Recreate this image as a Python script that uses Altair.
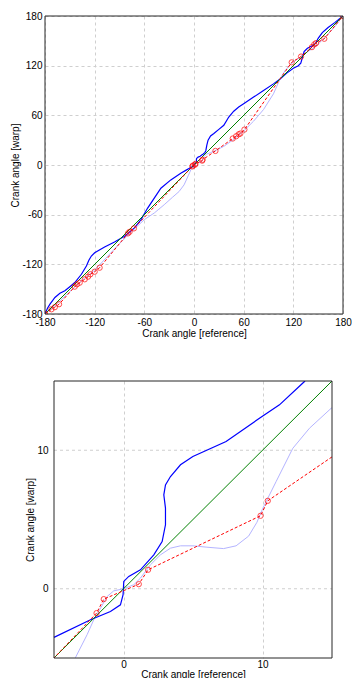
import altair as alt
import pandas as pd

# ---------------- data ----------------
diag_x = [-180, 180]
diag_y = [-180, 180]

blue_x = [-180, -177, -174, -168, -162, -156, -150, -144, -136, -130, -127, -124, -120, -108, -96, -84, -72, -64,
          -56, -48, -40, -28, -16, -10, -5.0, -2.37, -0.94, -0.22, -0.03, 0.02, 0.38, 1.22, 2.18, 2.78, 3.02, 3.02,
          2.9, 3.02, 3.38, 4.1, 4.99, 7.38, 9.78, 11.22, 13.02, 14.2, 15.5, 17, 20, 24, 30, 36, 42, 48, 54, 60, 72,
          84, 96, 104, 112, 120, 126, 129, 131, 133, 137, 143, 147, 150, 155, 162, 170, 180]
blue_y = [-180, -173, -168, -160, -155, -152, -147, -142, -132, -122, -115, -110, -106, -99, -93, -86, -76, -66,
          -52, -40, -28, -18, -10, -6.5, -3.51, -2.24, -1.64, -1.16, -0.43, 0.53, 0.89, 1.37, 2.45, 3.41, 4.62, 5.82,
          6.78, 7.5, 8.1, 8.95, 9.55, 10.63, 12.31, 13.28, 14.96, 17, 24, 30, 35, 38, 43, 48, 58, 65, 70, 74, 82,
          90, 98, 104, 111, 117, 120, 123, 130, 137, 141, 144, 147, 153, 160, 166, 172, 180]

light_x = [-180, -165, -150, -135, -120, -105, -90, -75, -60, -48, -36, -26, -18, -12, -7, -3.45, -2.62, -2.14,
           -1.65, -1.18, -0.7, 0.02, 0.74, 1.22, 1.94, 2.66, 3.38, 4.1, 5.0, 6.0, 7.2, 8.1, 9.0, 9.6, 10.02, 10.98,
           12.18, 13.38, 14.94, 20, 24, 36, 48, 60, 72, 84, 96, 104, 110, 116, 122, 128, 136, 148, 160, 170, 180]
light_y = [-180, -167, -153, -139, -127, -111, -95, -80, -66, -58, -48, -39, -32, -24, -13, -4.96, -3.32, -2.24,
           -1.4, -0.56, -0.15, 0.0, 0.29, 0.77, 1.73, 2.45, 2.93, 3.1, 3.1, 3.0, 2.9, 3.1, 3.8, 4.8, 5.8, 7.74,
           10.14, 11.59, 13.03, 15, 16.5, 22.5, 31, 41, 53, 67, 86, 104, 114, 121, 126, 130, 136, 144, 156, 167, 180]

red_x = [-180, -172.2, -168.2, -163, -144.1, -141.3, -138.1, -132, -128, -125.2, -120, -114, -79.8, -77.8, -72.6,
         -1.94, -1.42, 1.1, 1.77, 9.86, 10.38, 25.9, 46.8, 50.9, 54, 56, 60.9, 118, 129.3, 142.5, 145.3, 147.4,
         157.4, 180]
red_y = [-180, -174.3, -171.8, -168.2, -147, -144.1, -142.2, -138.1, -134.9, -132, -128.9, -124.1, -82.6, -80.7,
         -76.6, -1.76, -0.75, 0.33, 1.37, 5.27, 6.35, 17.0, 32, 34.7, 37.1, 38, 42.8, 124, 131, 142.4, 145.7, 147.2,
         152.5, 180]

top_ticks = [-180, -120, -60, 0, 60, 120, 180]
bottom_ticks = [0, 10]
top_domain = [-180, 180]
bottom_domain = [-5, 15]
x_title = "Crank angle [reference]"
y_title = "Crank angle [warp]"

FONT = "Liberation Sans"
GRID = "#cfcfcf"
FRAME = "#262626"


def frame(xs, ys):
    return pd.DataFrame({"x": xs, "y": ys, "i": list(range(len(xs)))})


diag = frame(diag_x, diag_y)
blue = frame(blue_x, blue_y)
light = frame(light_x, light_y)
red = frame(red_x, red_y)


def panel(domain, ticks, xs, ys, xax, yax, w, h, hgrid_rules, blue_min=None):
    def enc(order=True):
        d = dict(x=alt.X("x:Q", scale=xs, axis=xax), y=alt.Y("y:Q", scale=ys, axis=yax))
        if order:
            d["order"] = alt.Order("i:Q")
        return d

    layers = []
    inner = [t for t in ticks if domain[0] < t < domain[1]]
    if hgrid_rules:
        hg = pd.DataFrame({"y": inner, "x": [domain[0]] * len(inner), "x2": [domain[1]] * len(inner)})
        layers.append(alt.Chart(hg).mark_rule(color=GRID, strokeDash=[3, 3], strokeWidth=1).encode(
            x=alt.X("x:Q", scale=xs, axis=xax), x2="x2:Q", y=alt.Y("y:Q", scale=ys, axis=yax)))
    layers.append(alt.Chart(light).mark_line(color="#b4b4ff", strokeWidth=1, clip=True).encode(**enc()))
    b = alt.Chart(blue)
    if blue_min is not None:
        b = b.transform_filter(alt.datum.x >= blue_min)
    layers.append(b.mark_line(color="#0000ff", strokeWidth=1.2, clip=True).encode(**enc()))
    layers.append(alt.Chart(diag).mark_line(color="#008000", strokeWidth=1, clip=True).encode(**enc()))
    layers.append(alt.Chart(red).mark_line(color="#ff0000", strokeWidth=1, strokeDash=[3, 2],
                                           clip=True).encode(**enc()))
    layers.append(alt.Chart(red).mark_point(shape="circle", filled=False, color="#ff0000", size=28,
                                            strokeWidth=1, clip=True).encode(**enc(False)))
    box = pd.DataFrame({"x": [domain[0]], "x2": [domain[1]], "y": [domain[0]], "y2": [domain[1]]})
    layers.append(alt.Chart(box).mark_rect(fill=None, stroke=FRAME, strokeWidth=1).encode(
        x=alt.X("x:Q", scale=xs, axis=xax), x2="x2:Q", y=alt.Y("y:Q", scale=ys, axis=yax), y2="y2:Q"))
    return alt.layer(*layers).properties(width=w, height=h, view=alt.ViewBackground(stroke=None))


# ---------------- top panel ----------------
t_xs = alt.Scale(domain=top_domain, nice=False, zero=False)
t_ys = alt.Scale(domain=top_domain, nice=False, zero=False)
t_xax = alt.Axis(values=top_ticks, grid=True, gridDash=[3, 3], gridColor=GRID,
                 domain=False, ticks=False, tickSize=0, labelPadding=3, labelFlush=False,
                 labelExpr="'' + datum.value", title=x_title, titleX=149, titleY=19,
                 titleBaseline="middle", titleAlign="center")
t_yax = alt.Axis(values=top_ticks, grid=True, gridDash=[3, 3], gridColor=GRID,
                 domain=False, ticks=False, tickSize=0, labelPadding=3, labelFlush=False,
                 labelExpr="'' + datum.value", title=y_title, titleX=-30, titleY=149, titleAngle=270,
                 titleBaseline="middle", titleAlign="center")
top = panel(top_domain, top_ticks, t_xs, t_ys, t_xax, t_yax, 298, 298, False)

# ---------------- bottom panel ----------------
# plot box is 278 px wide, drawn 9 px to the right of the upper panel's left edge
b_xs = alt.Scale(domain=bottom_domain, range=[9, 287], nice=False, zero=False)
b_ys = alt.Scale(domain=bottom_domain, nice=False, zero=False)
b_xax = alt.Axis(values=bottom_ticks, grid=True, gridDash=[3, 3], gridColor=GRID, domain=False, ticks=False,
                 tickSize=0, labelPadding=1, labelFlush=False, labelExpr="'' + datum.value",
                 title=x_title, titleX=148, titleY=16, titleBaseline="middle", titleAlign="center")
b_yax = alt.Axis(values=bottom_ticks, grid=False, domain=False, ticks=False, tickSize=0, offset=-9,
                 labelPadding=6, labelFlush=False, labelExpr="'' + datum.value", title=y_title,
                 titleX=-24, titleY=138.5, titleAngle=270, titleBaseline="middle", titleAlign="center")
bottom = panel(bottom_domain, bottom_ticks, b_xs, b_ys, b_xax, b_yax, 287, 277, True,
               blue_min=bottom_domain[0])

chart = alt.vconcat(top, bottom, spacing=42).properties(
    padding={"left": 10, "top": 11, "right": 0, "bottom": -1}
).configure_view(stroke=None).configure_axis(
    labelFont=FONT, labelFontSize=10, labelColor="#000000", titleFont=FONT, titleFontSize=10,
    titleFontWeight="normal", titleColor="#000000"
)

chart.save("out.html", embed_options={"renderer": "svg", "actions": False})
